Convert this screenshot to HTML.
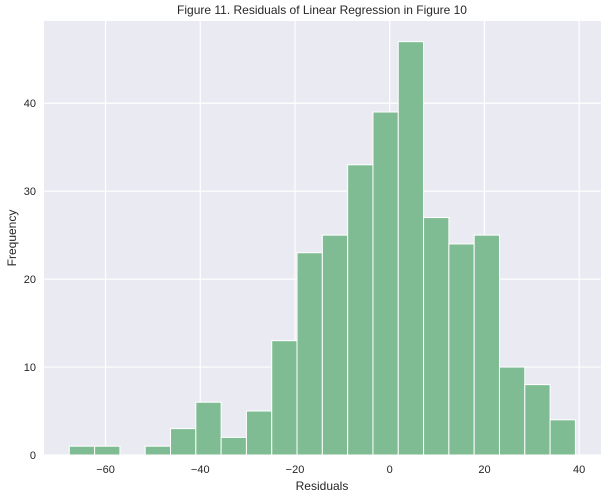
<!DOCTYPE html>
<html><head><meta charset="utf-8"><style>
body{margin:0;background:#fff;font-family:"Liberation Sans",sans-serif}
</style></head><body>
<svg width="608" height="496" xmlns="http://www.w3.org/2000/svg" font-family="Liberation Sans, sans-serif">
<text x="322" y="14" text-anchor="middle" font-size="12" fill="#262626">Figure 11. Residuals of Linear Regression in Figure 10</text>
<rect x="44" y="21" width="557" height="434" fill="#eaeaf2"/>
<g id="grid"></g><g id="bars"></g><g id="ticks"></g>
<text x="322" y="490" text-anchor="middle" font-size="12" fill="#262626">Residuals</text>
<text transform="translate(16,238) rotate(-90)" text-anchor="middle" font-size="12" fill="#262626">Frequency</text>
</svg>
<script>
const counts=[1,1,0,1,3,6,2,5,13,23,25,33,39,47,27,24,25,10,8,4];
const binStart=-67.65, binEnd=39.2;
const xTicks=[-60,-40,-20,0,20,40];
const yTicks=[0,10,20,30,40];
const L=44,R=600.7,T=21,B=455;
const x0=binStart-(binEnd-binStart)*0.05, x1=binEnd+(binEnd-binStart)*0.05;
const yMax=Math.max(...counts)*1.05;
const X=v=>L+(v-x0)/(x1-x0)*(R-L);
const Y=v=>B-v/yMax*(B-T);
const NS="http://www.w3.org/2000/svg";
function mk(tag,a,p){const e=document.createElementNS(NS,tag);for(const k in a)e.setAttribute(k,a[k]);document.getElementById(p).appendChild(e);return e;}
xTicks.forEach(t=>{
 const g=mk('line',{x1:X(t),x2:X(t),y1:T,y2:B,stroke:'#fff','stroke-width':1.2},'grid');
 
 
 const l=mk('text',{x:X(t),y:B+18,'text-anchor':'middle','font-size':11,fill:'#262626'},'ticks');
 l.textContent=(t<0?'\u2212'+(-t):t);
 
 
});
yTicks.forEach(t=>{
 const g=mk('line',{x1:L,x2:R,y1:Y(t),y2:Y(t),stroke:'#fff','stroke-width':1.2},'grid');
 
 
 const l=mk('text',{x:L-8,y:Y(t)+4,'text-anchor':'end','font-size':11,fill:'#262626'},'ticks');
 l.textContent=t;
 
 
});
const w=(binEnd-binStart)/counts.length;
counts.forEach((c,i)=>{
 if(!c)return;
 const a=binStart+i*w;
 const r=mk('rect',{x:X(a),y:Y(c),width:X(a+w)-X(a),height:B-Y(c),fill:'#7fbc93',stroke:'#fff','stroke-width':1},'bars');
 
 
});
</script>
</body></html>
